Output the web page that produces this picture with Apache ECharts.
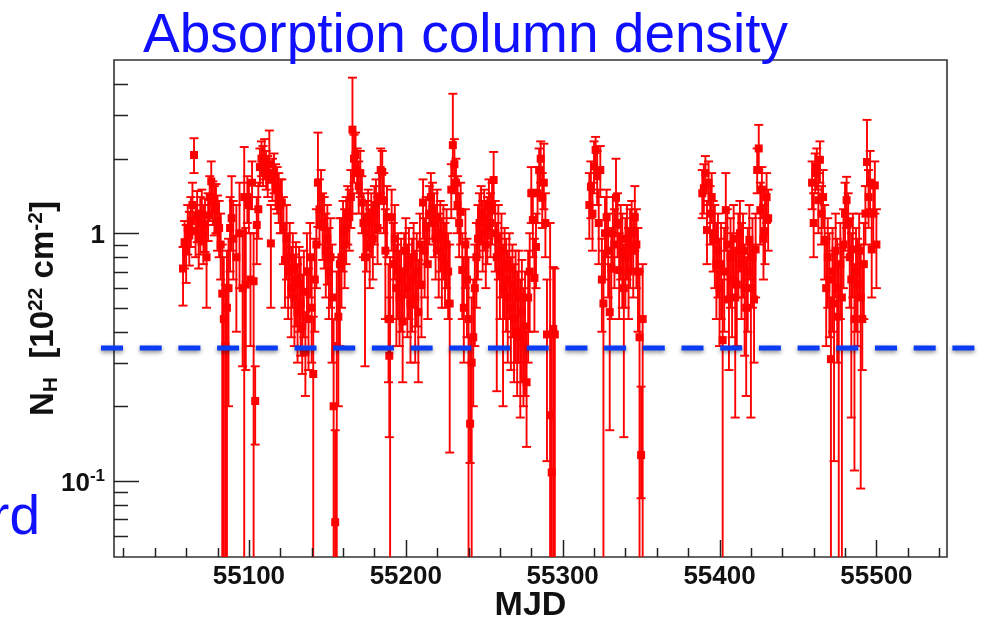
<!DOCTYPE html>
<html><head><meta charset="utf-8">
<script src="https://cdn.jsdelivr.net/npm/echarts@6/dist/echarts.min.js"></script>
<style>html,body{margin:0;padding:0;background:#fff}#c{width:983px;height:624px}</style>
</head><body><div id="c"></div>
<script>
// rows: [MJD, N_H, lower bound, upper bound]  (N_H in 1e22 cm^-2)
const segment1 = [
[55058,0.72,0.51,0.88],[55059,0.92,0.72,1.12],[55060,0.85,0.63,1.08],[55061,1.05,0.82,1.30],
[55062,0.98,0.74,1.22],[55063,1.12,0.88,1.40],[55064,1.30,1.05,1.60],[55065,2.07,1.75,2.42],
[55066,1.02,0.80,1.30],[55067,1.18,0.92,1.48],[55068,0.95,0.72,1.20],[55069,1.10,0.82,1.40],
[55070,1.20,0.90,1.50],[55071,1.00,0.75,1.30],[55072,1.08,0.84,1.38],[55073,0.80,0.50,1.12],
[55074,1.18,0.93,1.45],[55075,1.40,1.12,1.70],[55076,1.62,1.30,1.95],[55077,1.35,1.08,1.62],
[55078,1.25,0.98,1.55],[55079,1.28,1.00,1.58],[55080,1.12,0.85,1.42],[55081,1.05,0.80,1.35],
[55082,0.90,0.65,1.20],[55083,0.57,0.01,0.90],[55084,0.45,0.01,0.80],[55085,0.35,0.01,0.62],
[55086,0.50,0.01,0.85],[55087,0.60,0.20,0.95],[55088,1.05,0.70,1.40],[55089,1.15,0.85,1.70],
[55090,0.95,0.65,1.35],[55092,0.80,0.40,1.30],[55094,1.00,0.60,1.60],[55096,0.60,0.29,1.02],
[55097,1.40,0.01,2.23],[55098,0.62,0.28,1.05],[55099,1.40,1.10,1.70],[55100,1.30,1.00,1.60],
[55101,0.65,0.35,1.00],[55102,1.60,1.25,1.95],[55103,0.64,0.01,1.00],[55104,0.21,0.14,0.29],
[55105,1.08,0.75,1.40],[55106,1.25,0.95,1.60],[55107,1.85,1.55,2.20],[55108,2.00,1.70,2.35],
[55109,1.86,1.55,2.25],[55110,1.95,1.65,2.40],[55111,1.80,1.50,2.15],[55112,1.70,1.40,2.05],
[55113,1.90,1.60,2.60],[55114,0.91,0.50,1.30],[55115,1.65,1.35,2.00],[55116,1.75,1.45,2.10],
[55117,1.55,1.25,1.90],[55118,1.50,1.20,1.85],[55119,1.40,1.10,1.75],[55120,1.30,1.00,1.65],
[55121,1.33,1.00,1.65],[55122,1.06,0.75,1.40],[55123,0.78,0.50,1.10],[55124,0.95,0.65,1.30],
[55125,0.70,0.45,1.00],[55126,0.80,0.55,1.10],[55127,0.60,0.38,0.88],[55128,0.72,0.50,1.00],
[55129,0.55,0.35,0.82],[55130,0.65,0.42,0.92],[55131,0.48,0.30,0.75],[55132,0.62,0.40,0.88],
[55133,0.52,0.32,0.80],[55134,0.42,0.27,0.68],[55135,0.58,0.38,0.85],[55136,0.33,0.22,0.48],
[55137,0.70,0.45,1.00],[55138,0.45,0.28,0.72],[55139,0.80,0.55,1.10],[55140,0.50,0.30,0.78],
[55141,0.27,0.01,0.46],[55142,0.65,0.40,0.95],[55143,0.90,0.60,1.25]
];
const segment2 = [
[55144,1.60,1.06,2.55],[55145,1.25,0.90,1.65],[55146,1.40,1.05,1.80],[55147,1.10,0.78,1.45],
[55148,1.06,0.72,1.40],[55149,0.85,0.55,1.20],[55150,0.95,0.62,1.30],[55151,0.70,0.45,1.05],
[55152,0.80,0.50,1.15],[55153,0.55,0.30,0.90],[55154,0.20,0.01,0.45],[55155,0.068,0.01,0.16],
[55156,0.35,0.01,0.70],[55157,0.46,0.20,0.80],[55158,0.75,0.35,1.15],[55159,0.80,0.50,1.15],
[55160,1.00,0.70,1.35],[55161,0.90,0.60,1.25],[55162,1.05,0.75,1.40],[55163,1.20,0.90,1.55],
[55164,1.16,0.85,1.50],[55165,1.40,1.05,1.80],[55166,2.62,1.20,4.25],[55167,2.00,1.60,2.50],
[55168,2.07,1.70,2.55],[55169,1.80,1.45,2.20],[55170,1.55,1.20,1.95],[55171,1.75,1.40,2.15],
[55172,1.33,1.00,1.70],[55173,1.10,0.80,1.45],[55174,0.80,0.29,1.20],[55175,1.00,0.70,1.35],
[55176,1.15,0.85,1.50],[55177,0.90,0.60,1.25],[55178,1.10,0.80,1.45],[55179,0.95,0.65,1.30],
[55180,1.20,0.90,1.55],[55181,1.30,1.00,1.65],[55182,1.05,0.75,1.40],[55183,1.40,1.05,1.75],
[55184,1.80,1.45,2.20],[55185,1.77,1.40,2.15],[55186,1.35,1.00,1.75],[55187,0.85,0.45,1.25],
[55188,1.16,0.80,1.55],[55189,0.45,0.25,0.75],[55189.5,0.32,0.15,0.55],[55190,0.45,0.01,0.80],
[55191,1.16,0.85,1.50],[55192,0.75,0.45,1.10],[55193,0.95,0.65,1.30],[55194,0.60,0.35,0.90],
[55195,0.71,0.45,1.00],[55196,0.55,0.35,0.85],[55197,0.65,0.40,0.95],[55198,0.44,0.25,0.72],
[55199,0.70,0.45,1.00],[55200,0.85,0.55,1.15],[55201,0.60,0.38,0.90],[55202,0.75,0.45,1.05],
[55203,0.52,0.30,0.80],[55204,0.65,0.40,0.95],[55205,0.80,0.50,1.10],[55206,0.55,0.30,0.85],
[55207,0.70,0.42,1.00],[55208,0.48,0.25,0.78],[55209,0.90,0.60,1.20],[55210,0.62,0.38,0.92]
];
const segment3 = [
[55211,1.33,0.95,1.65],[55212,0.85,0.55,1.15],[55213,1.05,0.75,1.40],[55214,0.75,0.45,1.10],
[55215,1.20,0.90,1.55],[55216,1.40,1.10,1.75],[55217,1.25,0.95,1.60],[55218,1.10,0.80,1.45],
[55219,0.95,0.65,1.30],[55220,1.15,0.85,1.50],[55221,0.85,0.55,1.20],[55222,1.00,0.70,1.35],
[55223,0.80,0.50,1.15],[55224,0.95,0.65,1.30],[55225,0.75,0.50,1.10],[55226,0.90,0.60,1.25],
[55227,0.70,0.45,1.00],[55228,0.52,0.13,0.90],[55229,1.50,1.15,1.90],[55230,2.27,1.70,3.66],
[55231,1.90,1.45,2.40],[55232,1.60,1.25,2.00],[55233,1.30,1.00,1.70],[55234,1.10,0.80,1.45],
[55235,1.22,0.90,1.60],[55236,0.71,0.45,1.00],[55237,0.50,0.30,0.80],[55238,0.90,0.60,1.25],
[55239,0.65,0.38,0.95],[55240,0.45,0.01,0.80],[55241,0.17,0.118,0.38],[55242,0.30,0.01,0.55],
[55243,0.38,0.20,0.65],[55244,0.60,0.35,0.90],[55245,0.80,0.50,1.10],[55246,0.95,0.65,1.30],
[55247,1.10,0.80,1.45],[55248,1.20,0.90,1.55],[55249,1.00,0.70,1.35],[55250,1.15,0.85,1.50],
[55251,0.90,0.60,1.25],[55252,1.05,0.75,1.40],[55253,1.30,0.95,1.65],[55254,1.10,0.80,1.45],
[55255,1.24,0.90,1.60],[55256,1.64,1.20,2.13],[55257,1.00,0.70,1.35],[55258,0.80,0.23,1.10],
[55259,0.95,0.65,1.30],[55260,0.70,0.45,1.00],[55261,0.85,0.55,1.20],[55262,0.60,0.20,0.90],
[55263,0.75,0.45,1.05],[55264,0.65,0.40,0.95],[55265,0.55,0.30,0.85],[55266,0.72,0.45,1.00],
[55267,0.50,0.28,0.80],[55268,0.62,0.38,0.90],[55269,0.45,0.25,0.75],[55270,0.58,0.30,0.85],
[55271,0.40,0.22,0.70],[55272,0.55,0.30,0.85],[55273,0.38,0.18,0.65],[55274,0.48,0.25,0.78],
[55275,0.35,0.20,0.60],[55276,0.42,0.22,0.70],[55277,0.25,0.137,0.40],[55278,0.55,0.30,0.85],
[55279,0.70,0.40,1.00],[55280,1.45,1.10,1.85],[55281,1.13,0.80,1.50],[55282,0.66,0.40,0.95],
[55283,0.88,0.60,1.20],[55284,1.45,1.10,1.85],[55285,1.80,1.45,2.20],[55286,2.00,1.60,2.35],
[55287,1.39,1.05,1.75],[55288,1.60,1.25,2.30],[55289,1.10,0.80,1.45],[55290,0.39,0.12,0.65],
[55292,0.184,0.01,1.10],[55293,0.108,0.01,0.40],[55294,0.41,0.01,0.73],[55295,0.39,0.01,0.72]
];
const segment4 = [
[55317,1.30,0.95,1.75],[55318,1.54,1.15,1.95],[55319,1.20,0.85,1.60],[55320,1.86,1.45,2.35],
[55321,2.17,1.75,2.45],[55322,1.70,1.30,2.15],[55323,1.10,0.75,1.50],[55324,1.80,1.40,2.25],
[55325,0.65,0.40,0.95],[55326,0.52,0.01,0.85],[55327,1.00,0.65,1.40],[55328,1.16,0.80,1.50],
[55329,0.85,0.55,1.20],[55330,0.48,0.16,0.75],[55331,0.72,0.45,1.05],[55332,1.00,0.70,1.40],
[55333,0.90,0.60,1.25],[55334,1.39,1.05,2.00],[55335,1.10,0.80,1.45],[55336,0.71,0.45,1.00],
[55337,0.95,0.65,1.30],[55338,0.85,0.50,1.20],[55339,0.60,0.15,0.90],[55340,0.80,0.50,1.15],
[55341,0.95,0.65,1.30],[55342,0.70,0.45,1.05],[55343,0.88,0.60,1.25],[55344,1.00,0.70,1.35],
[55345,0.85,0.55,1.20],[55346,1.16,0.85,1.55],[55347,0.90,0.60,1.25],[55348,0.70,0.40,1.05],
[55349,0.38,0.01,0.70],[55350,0.127,0.085,0.24],[55351,0.45,0.01,0.75]
];
const segment5 = [
[55389,1.45,1.15,1.80],[55390,1.52,1.20,1.90],[55391,1.75,1.45,2.05],[55392,1.03,0.75,1.35],
[55393,1.60,1.30,1.95],[55394,1.20,0.90,1.55],[55395,1.40,1.10,1.75],[55396,1.00,0.70,1.35],
[55397,0.94,0.60,1.30],[55398,0.75,0.45,1.10],[55399,0.85,0.55,1.20],[55400,0.60,0.35,0.95],
[55401,0.75,0.45,1.10],[55402,0.37,0.01,0.65],[55403,0.70,0.40,1.05],[55404,1.24,0.85,1.75],
[55405,0.90,0.55,1.25],[55406,0.54,0.28,0.85],[55407,0.80,0.50,1.15],[55408,0.65,0.38,1.00],
[55409,0.95,0.65,1.30],[55410,0.55,0.18,0.85],[55411,0.62,0.35,0.95],[55412,0.85,0.55,1.20],
[55413,1.00,0.70,1.35],[55414,0.75,0.45,1.10],[55415,0.85,0.55,1.20],[55416,0.60,0.32,0.90],
[55417,0.50,0.22,0.80],[55418,0.70,0.40,1.05],[55419,0.94,0.65,1.30],[55420,0.60,0.18,0.90],
[55421,0.80,0.50,1.15],[55422,0.54,0.30,0.85],[55423,0.86,0.55,1.20],[55424,1.80,1.45,2.20],
[55425,2.20,1.80,2.74],[55426,1.24,0.90,1.60],[55427,1.50,1.15,1.85],[55428,0.95,0.65,1.30],
[55429,1.02,0.75,1.40],[55430,1.40,1.10,1.75],[55431,1.15,0.85,1.50]
];
const segment6 = [
[55459,1.60,1.25,1.95],[55460,1.10,0.80,1.45],[55461,1.75,1.45,2.10],[55462,1.86,1.50,2.20],
[55463,1.36,1.00,1.75],[55464,1.98,1.60,2.35],[55465,1.20,0.90,1.55],[55466,1.40,1.05,1.80],
[55467,0.94,0.65,1.30],[55468,0.60,0.35,0.95],[55469,0.80,0.50,1.15],[55470,0.65,0.38,1.00],
[55471,0.31,0.01,0.55],[55472,0.70,0.40,1.05],[55473,0.52,0.12,0.85],[55474,0.85,0.55,1.20],
[55475,0.60,0.30,0.95],[55476,0.46,0.01,0.75],[55477,0.75,0.45,1.10],[55478,0.55,0.01,0.90],
[55479,0.90,0.60,1.25],[55480,1.20,0.85,1.60],[55481,1.36,1.05,1.69],[55482,1.10,0.80,1.45],
[55483,0.80,0.50,1.15],[55484,0.65,0.18,1.00],[55485,0.86,0.55,1.20],[55486,0.45,0.11,0.75],
[55487,0.70,0.40,1.05],[55488,0.62,0.35,0.95],[55489,0.85,0.55,1.20],[55490,0.55,0.093,0.90],
[55491,0.45,0.28,0.75],[55492,0.75,0.45,1.10],[55493,1.20,0.90,1.55],[55494,1.94,1.55,2.87],
[55495,1.40,1.05,1.80],[55496,1.60,1.25,2.15],[55497,0.86,0.55,1.20],[55498,1.20,0.90,1.55],
[55499,1.56,1.20,1.95],[55500,0.90,0.60,1.25]
];

const xLabelValues = [55100, 55200, 55300, 55400, 55500];
const yMajorValues = [0.1, 1];
const yMinorValues = [0.06, 0.07, 0.08, 0.09, 0.2, 0.3, 0.4, 0.5, 0.6, 0.7, 0.8, 0.9, 2, 3, 4];
const yLabelTexts = ['{b|10}{s|-1}', '{b|1}'];
const thresholdNH = 0.344;
const X_MIN = 55014, X_MAX = 55545, Y_MIN = 0.0492, Y_MAX = 5.01;

const allData = [].concat(segment1, segment2, segment3, segment4, segment5, segment6);
const RED = '#ff0000';

function renderItem(params, api) {
  const x = api.value(0), y = api.value(1), lo = api.value(2), hi = api.value(3);
  const p = api.coord([x, y]);
  const pl = api.coord([x, lo]);
  const ph = api.coord([x, hi]);
  const cw = 4.5, s = 4;
  const ls = {stroke: RED, lineWidth: 1.9};
  return {type: 'group', children: [
    {type: 'line', shape: {x1: p[0], y1: pl[1], x2: p[0], y2: ph[1]}, style: ls},
    {type: 'line', shape: {x1: p[0]-cw, y1: ph[1], x2: p[0]+cw, y2: ph[1]}, style: ls},
    {type: 'line', shape: {x1: p[0]-cw, y1: pl[1], x2: p[0]+cw, y2: pl[1]}, style: ls},
    {type: 'rect', shape: {x: p[0]-s, y: p[1]-s, width: 2*s, height: 2*s}, style: {fill: RED}}
  ]};
}

const chart = echarts.init(document.getElementById('c'), null, {renderer: 'canvas'});
const hidden = {axisLine: {show: false}, axisTick: {show: false}, axisLabel: {show: false}, splitLine: {show: false}};
chart.setOption({
  animation: false,
  backgroundColor: '#ffffff',
  grid: {left: 114, right: 36, top: 60, bottom: 67, show: true, borderColor: '#333333', borderWidth: 1.6, backgroundColor: '#ffffff'},
  xAxis: Object.assign({type: 'value', min: X_MIN, max: X_MAX}, hidden),
  yAxis: Object.assign({type: 'log', logBase: 10, min: Y_MIN, max: Y_MAX}, hidden),
  series: [{type: 'custom', clip: true, data: allData, encode: {x: 0, y: 1}, renderItem: renderItem, z: 3}]
});

const px = v => chart.convertToPixel({xAxisIndex: 0}, v);
const py = v => chart.convertToPixel({yAxisIndex: 0}, v);
const L = px(X_MIN), R = px(X_MAX), B = py(Y_MIN), T = py(Y_MAX);
const g = [];
const tk = {stroke: '#222222', lineWidth: 1.5};
const FONT = '"Liberation Sans", Arial, Helvetica, sans-serif';
// x ticks
for (let v = 55020; v < X_MAX; v += 20) {
  const isMajor = v % 100 === 0;
  const xx = Math.round(px(v)) + 0.5;
  g.push({type: 'line', shape: {x1: xx, y1: B, x2: xx, y2: B - (isMajor ? 17 : 9)}, style: tk, z: 10});
}
xLabelValues.forEach(v => {
  g.push({type: 'text', x: px(v), y: 564, style: {text: String(v), font: 'bold 26px ' + FONT, fill: '#111', align: 'center', verticalAlign: 'top'}, z: 10});
});
// y ticks
yMajorValues.forEach(v => { const yy = Math.round(py(v)) + 0.5; g.push({type: 'line', shape: {x1: L, y1: yy, x2: L + 25, y2: yy}, style: tk, z: 10}); });
yMinorValues.forEach(v => { const yy = Math.round(py(v)) + 0.5; g.push({type: 'line', shape: {x1: L, y1: yy, x2: L + 14, y2: yy}, style: tk, z: 10}); });
yMajorValues.forEach((v, i) => {
  g.push({type: 'text', x: 105, y: py(v), style: {text: yLabelTexts[i], align: 'right', verticalAlign: 'middle',
    rich: {b: {font: 'bold 26px ' + FONT, fill: '#111', padding: [6, 0, 0, 0]}, s: {font: 'bold 17px ' + FONT, fill: '#111', padding: [0, 0, 8, 0]}}}, z: 10});
});
// axis titles
g.push({type: 'text', x: (L + R) / 2, y: 606, style: {text: 'MJD', font: 'bold 34px ' + FONT, fill: '#111', align: 'center', verticalAlign: 'middle'}, z: 10});
g.push({type: 'text', x: 44, y: (T + B) / 2, rotation: Math.PI / 2, style: {
  text: '{n|N}{d|H}{n|  [10}{u|22}{n| cm}{u|-2}{n|]}', align: 'center', verticalAlign: 'middle',
  rich: {n: {font: 'bold 33px ' + FONT, fill: '#111'}, d: {font: 'bold 21px ' + FONT, fill: '#111', padding: [15, 0, 0, 0]},
         u: {font: 'bold 21px ' + FONT, fill: '#111', padding: [0, 0, 15, 0]}}}, z: 10});
// title and stray text
g.push({type: 'text', x: 143, y: 37, style: {text: 'Absorption column density', font: '55px ' + FONT, fill: '#1010ff', align: 'left', verticalAlign: 'middle'}, z: 10});
g.push({type: 'text', x: 40, y: 519, style: {text: 'rd', font: '55px ' + FONT, fill: '#1010ff', align: 'right', verticalAlign: 'middle'}, z: 10});
// threshold dashed line
const yTh = py(thresholdNH);
g.push({type: 'line', shape: {x1: 101, y1: yTh, x2: 976, y2: yTh}, style: {stroke: '#0a3cf5', lineWidth: 5, lineDash: [22, 16.7],
  shadowColor: 'rgba(0,0,0,0.45)', shadowBlur: 4, shadowOffsetY: 2}, z: 20});
chart.setOption({graphic: g});
</script></body></html>
